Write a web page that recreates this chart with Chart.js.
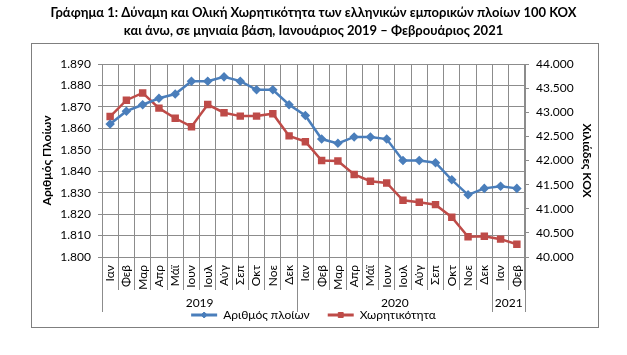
<!DOCTYPE html>
<html>
<head>
<meta charset="utf-8">
<script src="https://cdn.jsdelivr.net/npm/chart.js@4"></script>
<style>
  html, body { margin: 0; padding: 0; background: #fff; }
  #wrap { position: relative; width: 627px; height: 355px; }
  #frame { position: absolute; left: 31px; top: 43px; width: 568px; height: 285px; box-sizing: border-box; border: 1px solid #7f7f7f; pointer-events: none; }
</style>
</head>
<body>
<div id="wrap"><canvas id="c" width="627" height="355"></canvas><div id="frame"></div></div>
<script>
const months = ['Ιαν','Φεβ','Μαρ','Απρ','Μάϊ','Ιουν','Ιουλ','Αύγ','Σεπ','Οκτ','Νοε','Δεκ',
                'Ιαν','Φεβ','Μαρ','Απρ','Μάϊ','Ιουν','Ιουλ','Αύγ','Σεπ','Οκτ','Νοε','Δεκ',
                'Ιαν','Φεβ'];
const years = ['2019','2020','2021'];
const yearMonthCounts = [12, 12, 2];
const ships = [1862,1868,1871,1874,1876,1882,1882,1884,1882,1878,1878,1871,
               1866,1855,1853,1856,1856,1855,1845,1845,1844,1836,1829,1832,
               1833,1832];
const capacity = [42910,43250,43400,43085,42875,42700,43160,42990,42920,42920,42970,42510,
                  42390,42000,41990,41710,41570,41535,41175,41135,41085,40825,40420,40430,
                  40370,40265];
const seriesNames = ['Αριθμός πλοίων','Χωρητικότητα'];
const titleLines = ['Γράφημα 1: Δύναμη και Ολική Χωρητικότητα των ελληνικών εμπορικών πλοίων 100 ΚΟΧ',
                    'και άνω, σε μηνιαία βάση, Ιανουάριος 2019 – Φεβρουάριος 2021'];
const leftTitle = 'Αριθμός Πλοίων';
const rightTitle = 'Χιλιάδες ΚΟΧ';

const BLUE = '#4a7ebb', RED = '#be4b48', GRID = '#8c8c8c', TXT = '#000';
const FONT = 'Lato, Carlito, "Liberation Sans", sans-serif';

function fmt(v) { return String(Math.round(v)).replace(/\B(?=(\d{3})+(?!\d))/g, '.'); }

const decorPlugin = {
  id: 'decor',
  beforeDraw(chart) {
    const ctx = chart.ctx;
    ctx.save();
    ctx.fillStyle = '#fff';
    ctx.fillRect(0, 0, chart.width, chart.height);
    ctx.restore();
  },
  afterDraw(chart) {
    const ctx = chart.ctx;
    const xs = chart.scales.x;
    const half = (xs.getPixelForValue(1) - xs.getPixelForValue(0)) / 2;
    const top = chart.chartArea.bottom;
    ctx.save();
    // outer frame
    ctx.strokeStyle = '#7f7f7f';
    ctx.lineWidth = 1;
    ctx.beginPath();
    ctx.moveTo(31.5, 43.5); ctx.lineTo(598.5, 43.5); ctx.lineTo(598.5, 327.5); ctx.lineTo(31.5, 327.5); ctx.closePath();
    ctx.stroke();
    // year row
    ctx.strokeStyle = GRID;
    ctx.fillStyle = TXT;
    ctx.font = '12px ' + FONT;
    ctx.textAlign = 'center';
    ctx.textBaseline = 'middle';
    let start = 0;
    const bounds = [start];
    yearMonthCounts.forEach((n, k) => {
      const x0 = xs.getPixelForValue(start) - half;
      const x1 = xs.getPixelForValue(start + n - 1) + half;
      ctx.fillText(years[k], (x0 + x1) / 2, 303);
      start += n;
      bounds.push(start);
    });
    bounds.forEach(b => {
      const x = Math.round(xs.getPixelForValue(b) - half) + 0.5;
      ctx.beginPath();
      ctx.moveTo(x, top);
      ctx.lineTo(x, 312);
      ctx.stroke();
    });
    // legend markers
    const lg = chart.legend;
    if (lg && lg.legendHitBoxes) {
      lg.legendHitBoxes.forEach((hb, i) => {
        const ds = chart.data.datasets[i];
        ctx.fillStyle = ds.borderColor;
        ctx.strokeStyle = ds.borderColor;
        Chart.helpers.drawPoint(ctx, {
          pointStyle: ds.pointStyle, radius: ds.pointRadius, rotation: 0, borderWidth: 1
        }, hb.left + 13, hb.top + 6);
      });
    }
    ctx.restore();
  }
};

new Chart(document.getElementById('c'), {
  type: 'line',
  data: {
    labels: months,
    datasets: [
      {
        label: seriesNames[0], data: ships, yAxisID: 'y',
        borderColor: BLUE, backgroundColor: BLUE, borderWidth: 2.5,
        pointStyle: 'rectRot', pointRadius: 3, pointBackgroundColor: BLUE, pointBorderColor: BLUE,
        tension: 0
      },
      {
        label: seriesNames[1], data: capacity, yAxisID: 'y1',
        borderColor: RED, backgroundColor: RED, borderWidth: 2.5,
        pointStyle: 'rect', pointRadius: 3.5, pointBackgroundColor: RED, pointBorderColor: RED,
        tension: 0
      }
    ]
  },
  options: {
    responsive: false,
    animation: false,
    devicePixelRatio: 1,
    layout: { padding: { top: 0, left: 0, right: 0, bottom: 24 } },
    plugins: {
      tooltip: { enabled: false },
      title: {
        display: true, text: titleLines, color: TXT,
        font: { family: FONT, size: 13, weight: 'bold', lineHeight: 18 / 13 },
        padding: { top: 4, bottom: 24 }
      },
      legend: {
        display: true, position: 'bottom',
        labels: {
          color: TXT, font: { family: FONT, size: 12 },
          boxWidth: 26, boxHeight: 3, padding: 18,
          generateLabels: (chart) => Chart.defaults.plugins.legend.labels.generateLabels(chart)
            .map(l => Object.assign(l, { lineWidth: 0 }))
        }
      }
    },
    scales: {
      x: {
        type: 'category',
        offset: true,
        grid: { display: true, offset: true, color: GRID, lineWidth: 1, drawTicks: true, tickLength: 33, tickColor: GRID },
        border: { display: true, color: GRID },
        ticks: { color: TXT, font: { family: FONT, size: 12 }, minRotation: 90, maxRotation: 90, autoSkip: false, padding: -25 },
        afterFit(s) { s.height = 34; }
      },
      y: {
        position: 'left', min: 1800, max: 1890,
        grid: { color: GRID, lineWidth: 1, drawTicks: true, tickLength: 4, tickColor: GRID },
        border: { display: true, color: GRID },
        ticks: { stepSize: 10, color: TXT, font: { family: FONT, size: 12 }, padding: 7, callback: v => fmt(v) },
        title: { display: true, text: leftTitle, color: TXT, font: { family: FONT, size: 12, weight: 'bold' }, padding: { top: 40, bottom: 0 } },
        afterFit(s) { s.width = 102; }
      },
      y1: {
        position: 'right', min: 40000, max: 44000,
        grid: { drawOnChartArea: false, drawTicks: true, tickLength: 4, tickColor: GRID, color: GRID },
        border: { display: true, color: GRID },
        ticks: { stepSize: 500, color: TXT, font: { family: FONT, size: 12 }, padding: 7, callback: v => fmt(v) },
        title: { display: true, text: rightTitle, color: TXT, font: { family: FONT, size: 12, weight: 'bold' }, padding: { top: 33, bottom: 0 } },
        afterFit(s) { s.width = 102; }
      }
    }
  },
  plugins: [decorPlugin]
});
</script>
</body>
</html>
